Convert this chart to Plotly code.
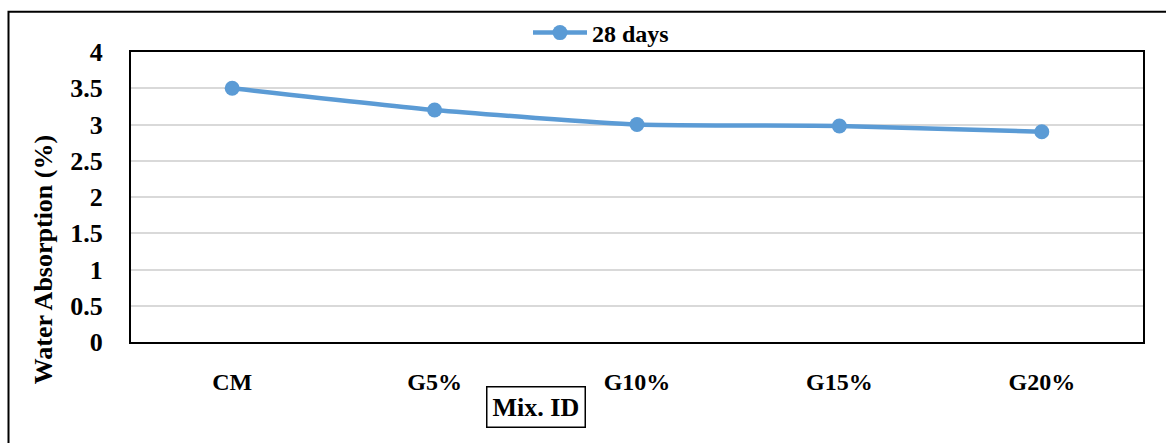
import plotly.graph_objects as go

# Mix designs and their 28-day water absorption
mix_ids = ["CM", "G5%", "G10%", "G15%", "G20%"]
absorption_28d = [3.5, 3.2, 3.0, 2.98, 2.9]
y_ticks = [0, 0.5, 1, 1.5, 2, 2.5, 3, 3.5, 4]
y_tick_text = ["0", "0.5", "1", "1.5", "2", "2.5", "3", "3.5", "4"]

FONT = "Times New Roman, Liberation Serif, serif"
BLUE = "#5B9BD5"

fig = go.Figure()
fig.add_trace(go.Scatter(
    x=mix_ids,
    y=absorption_28d,
    mode="lines+markers",
    name="28 days",
    line=dict(color=BLUE, width=4.5, shape="spline", smoothing=0.5),
    marker=dict(color=BLUE, size=15),
))

fig.update_layout(
    width=1166,
    height=443,
    margin=dict(l=131, r=23, t=51, b=101),
    paper_bgcolor="white",
    plot_bgcolor="white",
    font=dict(family=FONT, color="black"),
    showlegend=True,
    legend=dict(
        orientation="h",
        x=(528 - 131) / 1012,
        xanchor="left",
        y=(342 - 33) / 291,
        yanchor="middle",
        font=dict(family=FONT, size=24, color="black", weight="bold"),
        itemwidth=54,
        bgcolor="rgba(0,0,0,0)",
    ),
    xaxis=dict(
        type="category",
        range=[-0.5, 4.5],
        showgrid=False,
        showline=True,
        linecolor="black",
        linewidth=2,
        mirror=True,
        ticks="",
        ticklabelstandoff=17,
        tickfont=dict(family=FONT, size=24, color="black", weight="bold"),
    ),
    yaxis=dict(
        range=[0, 4],
        tickvals=y_ticks,
        ticktext=y_tick_text,
        showgrid=True,
        gridcolor="#D9D9D9",
        gridwidth=1.5,
        zeroline=False,
        showline=True,
        linecolor="black",
        linewidth=2,
        mirror=True,
        ticks="",
        ticklabelstandoff=21,
        tickfont=dict(family=FONT, size=26, color="black", weight="bold"),
    ),
    annotations=[
        dict(
            text="Water Absorption (%)",
            xref="paper", yref="paper",
            x=(43 - 131) / 1012, y=(342 - 260) / 291,
            xanchor="center", yanchor="middle",
            textangle=-90, showarrow=False,
            font=dict(family=FONT, size=26, color="black", weight="bold"),
        ),
        dict(
            text="Mix. ID",
            xref="paper", yref="paper",
            x=(536 - 131) / 1012, y=(342 - 407) / 291,
            xanchor="center", yanchor="middle",
            showarrow=False,
            bordercolor="black", borderwidth=1.5, borderpad=5,
            font=dict(family=FONT, size=26, color="black", weight="bold"),
        ),
    ],
    shapes=[
        # outer chart frame
        dict(
            type="rect", xref="paper", yref="paper",
            x0=(8.5 - 131) / 1012, x1=1.2,
            y0=-0.5, y1=(342 - 10.5) / 291,
            line=dict(color="black", width=2),
            fillcolor="rgba(0,0,0,0)",
            layer="below",
        ),
    ],
)

fig.write_html("out.html")
